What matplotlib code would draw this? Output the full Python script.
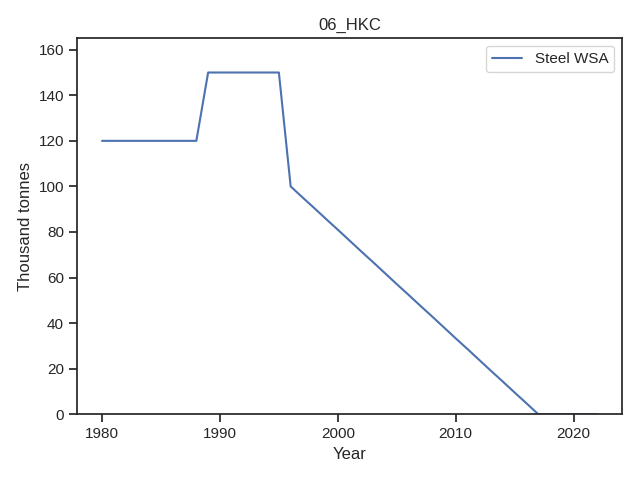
import numpy as np
import matplotlib
matplotlib.use("Agg")
import matplotlib.pyplot as plt
import seaborn as sns

years = list(range(1980, 2023))
steel_wsa = (
    [120] * 9
    + [150] * 7
    + [100, 95.2, 90.5, 85.7, 81.0, 76.2, 71.4, 66.7, 61.9, 57.1, 52.4,
       47.6, 42.9, 38.1, 33.3, 28.6, 23.8, 19.0, 14.3, 9.5, 4.8, 0]
    + [0] * 5
)

sns.set_theme(style="ticks")
plt.rcParams['font.family'] = ['Liberation Sans', 'DejaVu Sans']

fig, ax = plt.subplots(figsize=(6.4, 4.8), dpi=100)
ax.plot(years, steel_wsa, label="Steel WSA")
ax.set_ylim(0, 165)
ax.set_title("06_HKC")
ax.set_xlabel("Year")
ax.set_ylabel("Thousand tonnes")
ax.legend(loc="upper right")

plt.tight_layout()
plt.savefig("out.png")
plt.close()
